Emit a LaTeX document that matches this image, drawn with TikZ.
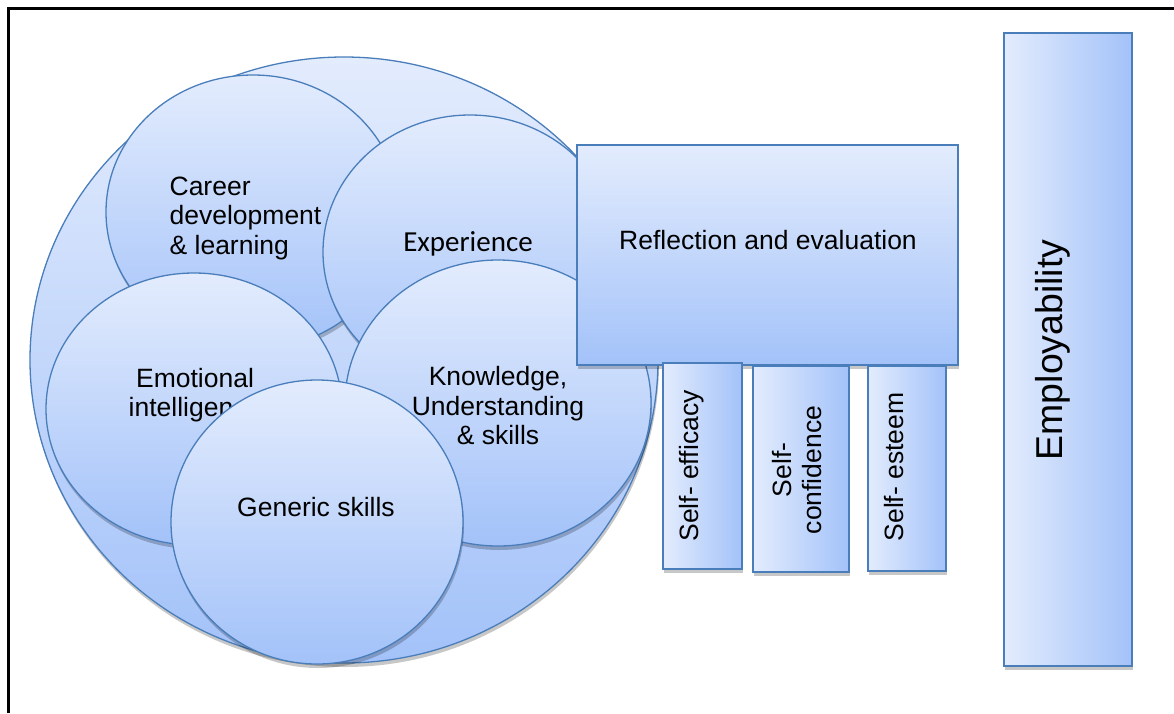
\documentclass[tikz,border=0pt]{standalone}
\usepackage{fontspec}
\setmainfont{Liberation Sans}
\newfontfamily\calib{Carlito}
\usetikzlibrary{shapes.geometric,shadows}
\definecolor{lite}{RGB}{227,236,253}
\definecolor{dark}{RGB}{163,194,249}
\definecolor{edge}{RGB}{74,126,187}
\tikzset{
  shad/.style={drop shadow={shadow xshift=1pt, shadow yshift=-4pt, opacity=0.22, fill=black}},
  bub/.style={ellipse, draw=edge, line width=1.3pt, top color=lite, bottom color=dark, inner sep=0pt, shad},
  hbox/.style={rectangle, draw=edge, line width=1.8pt, top color=lite, bottom color=dark, inner sep=0pt, shad},
  vbox/.style={rectangle, draw=edge, line width=1.8pt, left color=lite, right color=dark, inner sep=0pt, shad},
  lbl/.style={font=\fontsize{26.5}{29.5}\selectfont, text=black, align=center, inner sep=0pt},
}
\begin{document}
\begin{tikzpicture}[x=1pt, y=-1pt]
\useasboundingbox (0,0) rectangle (1174,713);
\fill[white] (0,0) rectangle (1174,713);
% frame
\coordinate (fbl) at (8,713);
\coordinate (ftl) at (8,8);
\coordinate (ftr) at (1174,8);
\draw[line width=3pt, line join=miter] (fbl) -- (ftl) -- (ftr);

% circles
\node[bub, minimum width=628, minimum height=606] (big) at (344,360) {};
\node[bub, minimum width=294, minimum height=274] (career) at (253,212) {};
\node[lbl, align=left] (careerT) at (245.5,218) {Career\\development\\\& learning};
\node[bub, minimum width=294, minimum height=274] (exper) at (470,252) {};
\node[lbl, font=\calib\fontsize{29}{30}\selectfont] (experT) at (468,244) {Experience};
\node[bub, minimum width=296, minimum height=272] (emot) at (194,409) {};
\node[lbl] (emotT) at (195,395) {Emotional\\intelligence};
\node[bub, minimum width=306, minimum height=286] (know) at (498,403) {};
\node[lbl] (knowT) at (498,406) {Knowledge,\\Understanding\\\& skills};
\node[bub, minimum width=292, minimum height=284] (gen) at (317,522) {};
\node[lbl] (genT) at (316,507) {Generic skills};

% reflection
\node[hbox, minimum width=381, minimum height=220] (refl) at (767.5,255) {};
\node[lbl] (reflT) at (768,240) {Reflection and evaluation};

% small boxes
\node[vbox, minimum width=79, minimum height=206] (eff) at (702.5,466) {};
\node[lbl, rotate=90] (effT) at (691.5,466) {Self- efficacy};
\node[vbox, minimum width=96, minimum height=206] (conf) at (801,469) {};
\node[lbl, rotate=90] (confT) at (797,470) {Self-\\confidence};
\node[vbox, minimum width=78, minimum height=205] (est) at (907,468.5) {};
\node[lbl, rotate=90] (estT) at (894,467) {Self- esteem};

% employability
\node[vbox, minimum width=128, minimum height=633] (emp) at (1068,349.5) {};
\node[lbl, rotate=90, font=\fontsize{37.4}{40}\selectfont] (empT) at (1053,350) {Employability};
\end{tikzpicture}
\end{document}
